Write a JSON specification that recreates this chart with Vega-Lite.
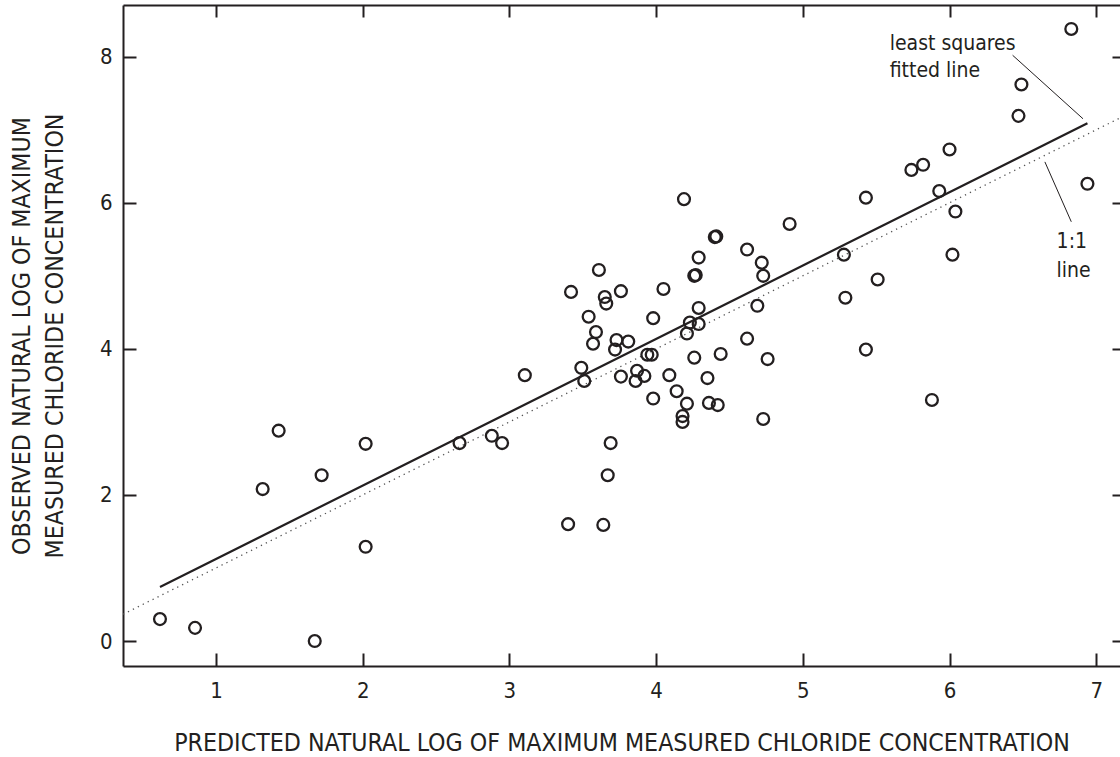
{
  "$schema": "https://vega.github.io/schema/vega-lite/v6.json",
  "autosize": "none",
  "width": 997,
  "height": 661,
  "padding": {"left": 123, "top": 5, "right": 0, "bottom": 91},
  "background": "white",
  "config": {
    "view": {"stroke": null},
    "font": "DejaVu Sans Condensed, Roboto",
    "axis": {
      "labelFont": "DejaVu Sans Condensed, Roboto",
      "titleFont": "DejaVu Sans Condensed, Roboto",
      "labelColor": "#231f20",
      "titleColor": "#231f20",
      "domainColor": "#231f20",
      "tickColor": "#231f20",
      "domainWidth": 2,
      "tickWidth": 2,
      "grid": false,
      "labelFontSize": 22,
      "titleFontSize": 24.7,
      "titleFontWeight": "normal"
    }
  },
  "datasets": {
    "pts": [
      {"pred": 0.618, "obs": 0.30}, {"pred": 0.857, "obs": 0.18}, {"pred": 1.673, "obs": 0.0},
      {"pred": 1.318, "obs": 2.08}, {"pred": 1.427, "obs": 2.88}, {"pred": 1.72, "obs": 2.27},
      {"pred": 2.02, "obs": 2.70}, {"pred": 2.02, "obs": 1.29}, {"pred": 2.66, "obs": 2.71},
      {"pred": 2.88, "obs": 2.81}, {"pred": 2.95, "obs": 2.71}, {"pred": 3.105, "obs": 3.64},
      {"pred": 3.40, "obs": 1.60}, {"pred": 3.64, "obs": 1.59}, {"pred": 3.69, "obs": 2.71},
      {"pred": 3.67, "obs": 2.27}, {"pred": 3.61, "obs": 5.08}, {"pred": 3.42, "obs": 4.78},
      {"pred": 3.65, "obs": 4.71}, {"pred": 3.66, "obs": 4.62}, {"pred": 3.76, "obs": 4.79},
      {"pred": 3.54, "obs": 4.44}, {"pred": 3.59, "obs": 4.23}, {"pred": 3.57, "obs": 4.07},
      {"pred": 3.73, "obs": 4.12}, {"pred": 3.81, "obs": 4.10}, {"pred": 3.72, "obs": 3.99},
      {"pred": 3.49, "obs": 3.74}, {"pred": 3.51, "obs": 3.56}, {"pred": 3.76, "obs": 3.62},
      {"pred": 4.19, "obs": 6.05}, {"pred": 4.91, "obs": 5.71}, {"pred": 4.40, "obs": 5.53},
      {"pred": 4.41, "obs": 5.54}, {"pred": 4.62, "obs": 5.36}, {"pred": 4.72, "obs": 5.18},
      {"pred": 4.73, "obs": 5.00}, {"pred": 4.29, "obs": 5.25}, {"pred": 4.26, "obs": 5.00},
      {"pred": 4.27, "obs": 5.01}, {"pred": 4.05, "obs": 4.82}, {"pred": 4.29, "obs": 4.56},
      {"pred": 3.98, "obs": 4.42}, {"pred": 4.69, "obs": 4.59}, {"pred": 4.23, "obs": 4.36},
      {"pred": 4.29, "obs": 4.34}, {"pred": 4.21, "obs": 4.21}, {"pred": 4.62, "obs": 4.14},
      {"pred": 3.94, "obs": 3.92}, {"pred": 3.97, "obs": 3.92}, {"pred": 4.26, "obs": 3.88},
      {"pred": 4.44, "obs": 3.93}, {"pred": 4.76, "obs": 3.86}, {"pred": 3.87, "obs": 3.70},
      {"pred": 3.86, "obs": 3.56}, {"pred": 3.92, "obs": 3.63}, {"pred": 4.09, "obs": 3.64},
      {"pred": 4.35, "obs": 3.60}, {"pred": 4.14, "obs": 3.42}, {"pred": 3.98, "obs": 3.32},
      {"pred": 4.21, "obs": 3.25}, {"pred": 4.36, "obs": 3.26}, {"pred": 4.42, "obs": 3.23},
      {"pred": 4.18, "obs": 3.08}, {"pred": 4.18, "obs": 3.00}, {"pred": 4.73, "obs": 3.04},
      {"pred": 5.43, "obs": 6.07}, {"pred": 5.74, "obs": 6.45}, {"pred": 5.82, "obs": 6.52},
      {"pred": 6.00, "obs": 6.73}, {"pred": 5.93, "obs": 6.16}, {"pred": 6.04, "obs": 5.88},
      {"pred": 5.28, "obs": 5.29}, {"pred": 6.02, "obs": 5.29}, {"pred": 5.51, "obs": 4.95},
      {"pred": 5.29, "obs": 4.70}, {"pred": 5.43, "obs": 3.99}, {"pred": 5.88, "obs": 3.30},
      {"pred": 6.83, "obs": 8.38}, {"pred": 6.49, "obs": 7.62}, {"pred": 6.47, "obs": 7.19},
      {"pred": 6.94, "obs": 6.26}
    ],
    "oneToOne": [{"pred": 0.366, "obs": 0.366}, {"pred": 7.162, "obs": 7.162}],
    "fitted": [{"pred": 0.618, "obs": 0.74}, {"pred": 6.94, "obs": 7.09}],
    "leaders": [
      {"pred": 6.43, "obs": 8.02, "pred2": 6.91, "obs2": 7.15},
      {"pred": 6.65, "obs": 6.56, "pred2": 6.83, "obs2": 5.74}
    ],
    "notes": [
      {"pred": 5.592, "obs": 8.09, "label": "least squares"},
      {"pred": 5.592, "obs": 7.72, "label": "fitted line"},
      {"pred": 6.73, "obs": 5.38, "label": "1:1"},
      {"pred": 6.73, "obs": 4.98, "label": "line"}
    ]
  },
  "resolve": {"axis": {"x": "independent", "y": "independent"}},
  "layer": [
    {
      "data": {"name": "oneToOne"},
      "mark": {"type": "line", "color": "#555555", "strokeWidth": 1.3, "strokeDash": [1.3, 4.2], "clip": true},
      "encoding": {
        "x": {"field": "pred", "type": "quantitative",
              "scale": {"domain": [0.366, 7.162], "nice": false, "zero": false},
              "axis": {"orient": "bottom", "values": [1, 2, 3, 4, 5, 6, 7], "tickSize": -13, "labelPadding": 27,
                       "title": "PREDICTED NATURAL LOG OF MAXIMUM MEASURED CHLORIDE CONCENTRATION",
                       "titleY": 84, "titleBaseline": "alphabetic"}},
        "y": {"field": "obs", "type": "quantitative",
              "scale": {"domain": [-0.342, 8.708], "nice": false, "zero": false},
              "axis": {"orient": "left", "values": [0, 2, 4, 6, 8], "tickSize": -13, "labelPadding": 24,
                       "title": ["OBSERVED NATURAL LOG OF MAXIMUM", "MEASURED CHLORIDE CONCENTRATION"],
                       "titleX": -101, "titleBaseline": "middle", "titleLineHeight": 33}}
      }
    },
    {
      "data": {"name": "fitted"},
      "mark": {"type": "line", "color": "#231f20", "strokeWidth": 2.2},
      "encoding": {
        "x": {"field": "pred", "type": "quantitative",
              "axis": {"orient": "top", "values": [1, 2, 3, 4, 5, 6, 7], "tickSize": -12, "labels": false, "title": null}},
        "y": {"field": "obs", "type": "quantitative",
              "axis": {"orient": "right", "values": [0, 2, 4, 6, 8], "tickSize": -8, "labels": false, "domain": false, "title": null}}
      }
    },
    {
      "data": {"name": "leaders"},
      "mark": {"type": "rule", "color": "#231f20", "strokeWidth": 1},
      "encoding": {
        "x": {"field": "pred", "type": "quantitative", "axis": null},
        "y": {"field": "obs", "type": "quantitative", "axis": null},
        "x2": {"field": "pred2"},
        "y2": {"field": "obs2"}
      }
    },
    {
      "data": {"name": "pts"},
      "mark": {"type": "point", "shape": "circle", "filled": false, "color": "#231f20", "size": 140, "strokeWidth": 2.3, "opacity": 1},
      "encoding": {
        "x": {"field": "pred", "type": "quantitative", "axis": null},
        "y": {"field": "obs", "type": "quantitative", "axis": null}
      }
    },
    {
      "data": {"name": "notes"},
      "mark": {"type": "text", "align": "left", "baseline": "alphabetic", "fontSize": 21, "color": "#231f20", "font": "DejaVu Sans Condensed, Roboto"},
      "encoding": {
        "x": {"field": "pred", "type": "quantitative", "axis": null},
        "y": {"field": "obs", "type": "quantitative", "axis": null},
        "text": {"field": "label"}
      }
    }
  ]
}
